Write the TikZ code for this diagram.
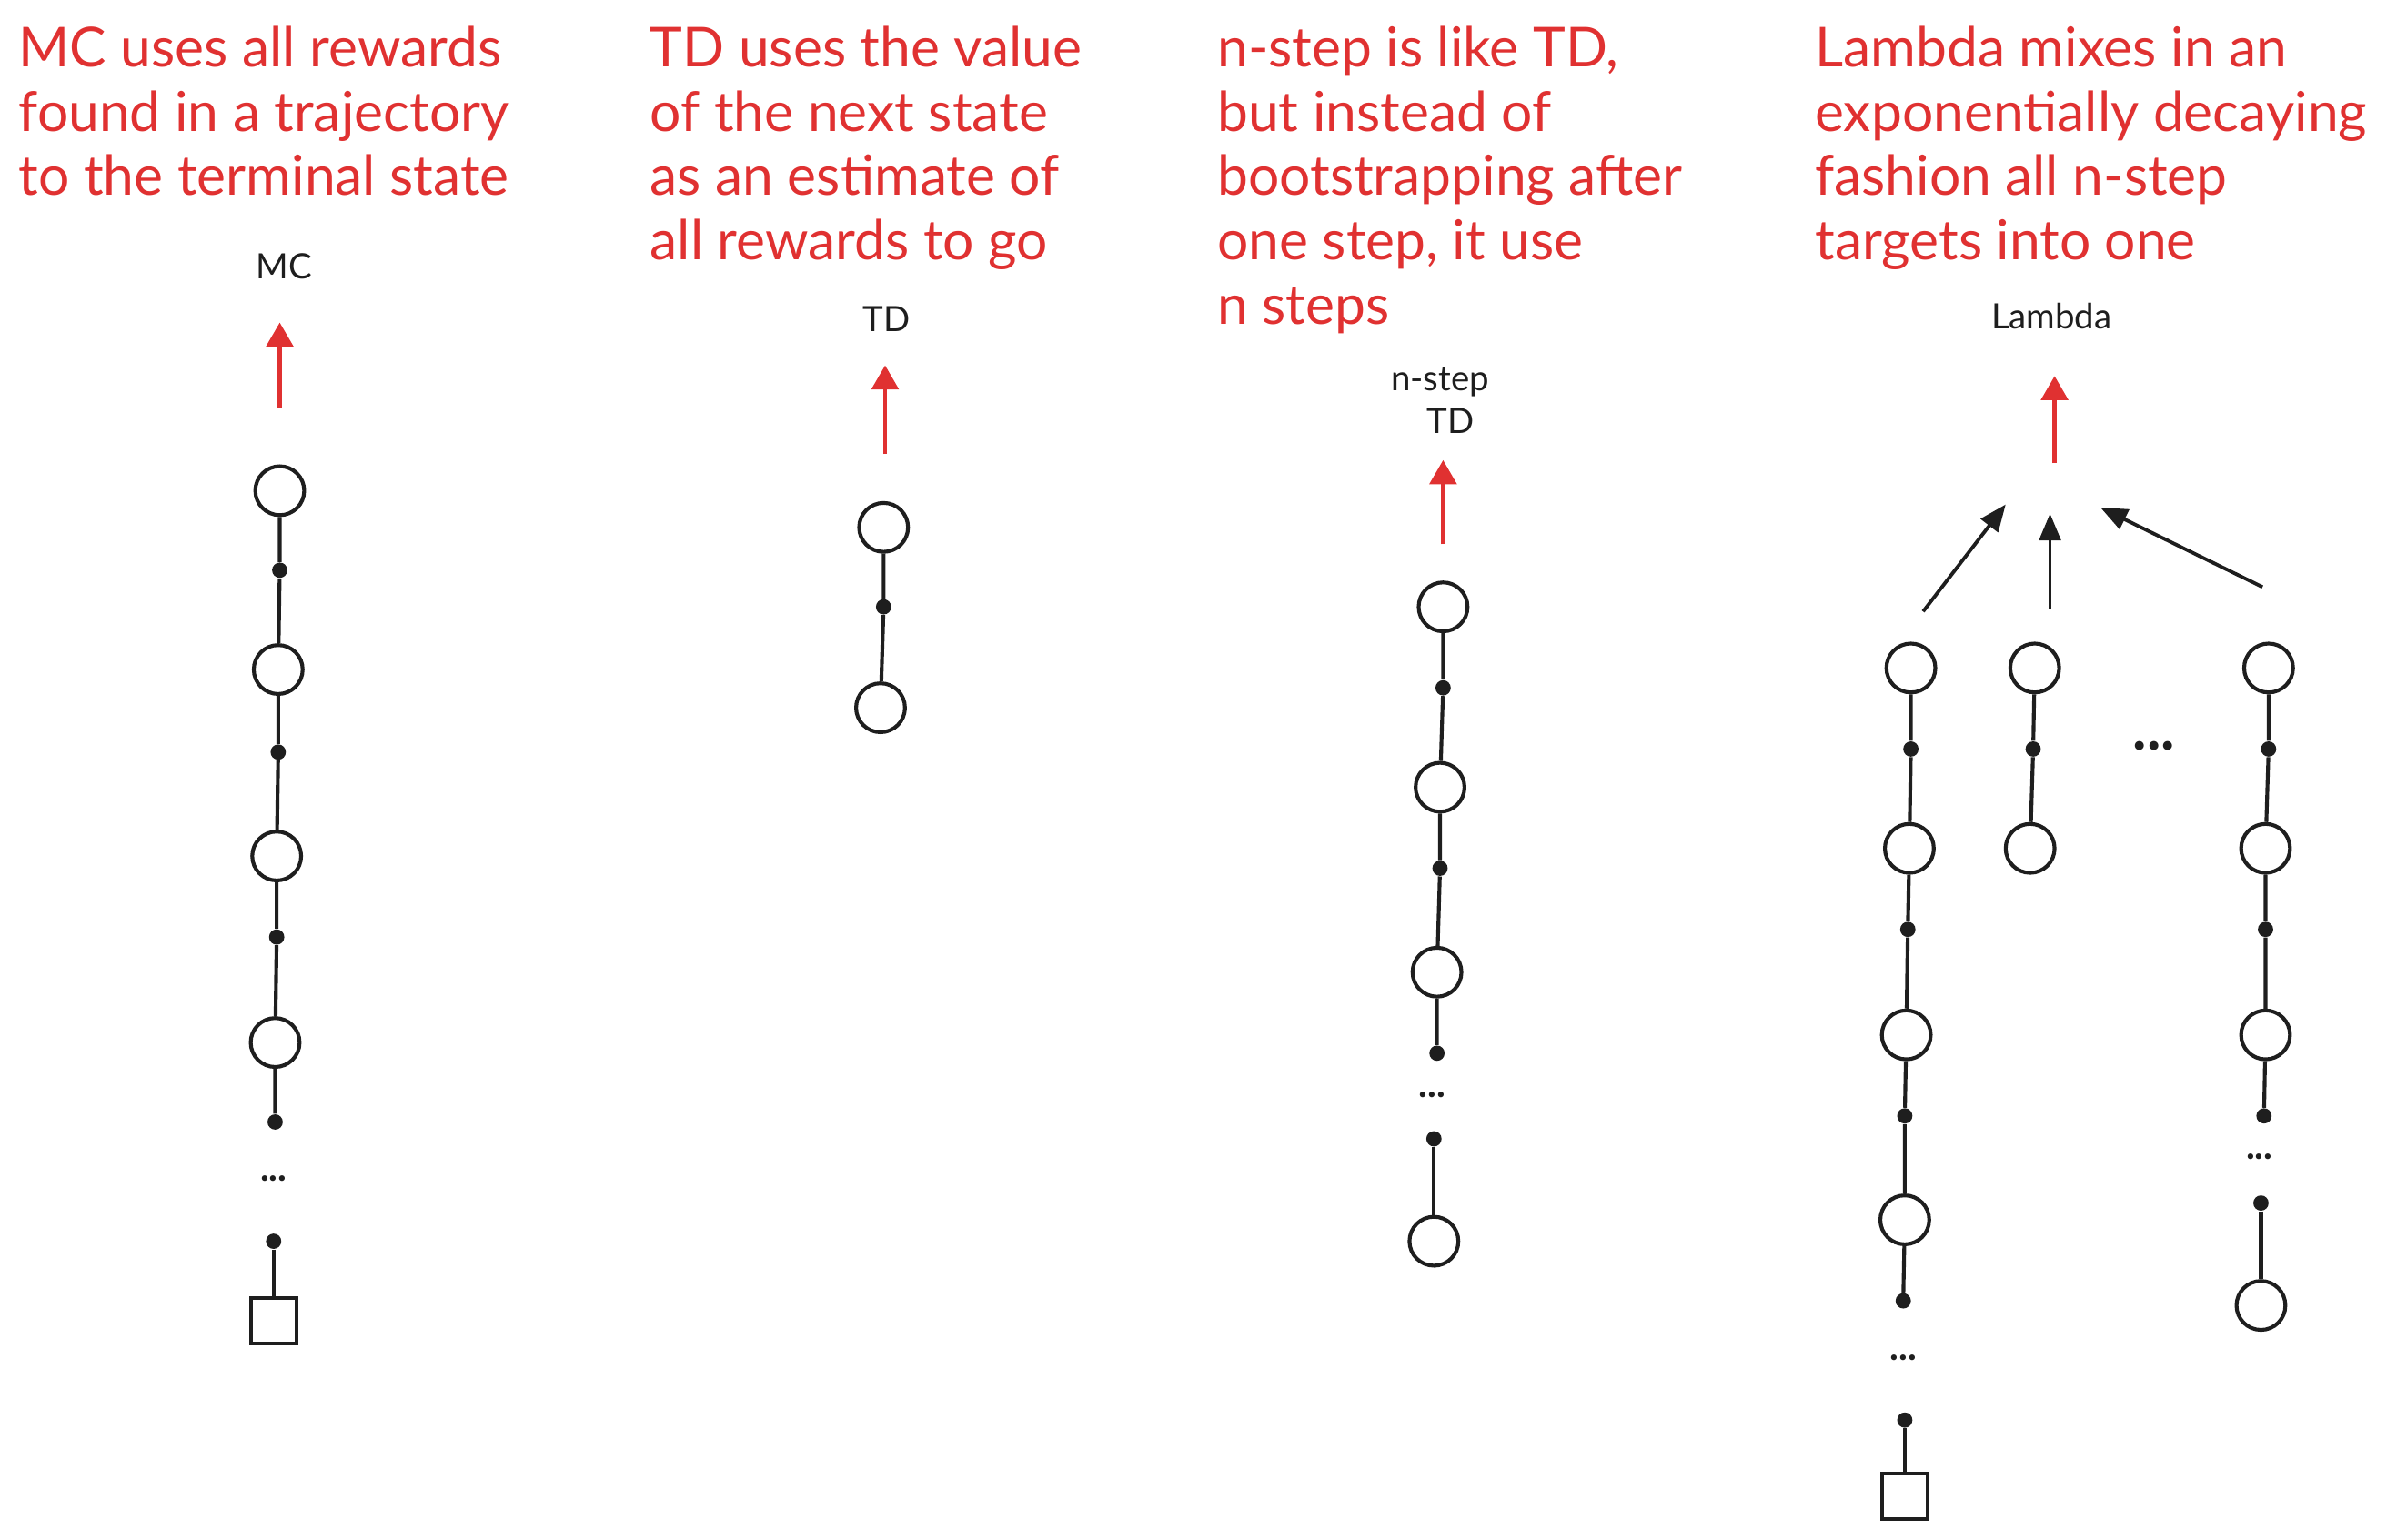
\documentclass[tikz,border=0pt]{standalone}
\usepackage{fontspec}
\setmainfont{Lato}
\usetikzlibrary{arrows.meta}
\definecolor{exred}{HTML}{E03131}
\definecolor{exblk}{HTML}{1E1E1E}
\begin{document}
\begin{tikzpicture}[x=0.02cm,y=-0.02cm,
  note/.style={anchor=north west,inner sep=0pt,align=left,text=exred,font=\fontsize{20.5}{23.9}\selectfont},
  lbl/.style={inner sep=0pt,align=center,text=exblk,font=\fontsize{13}{16}\selectfont},
  st/.style={circle,draw=exblk,line width=1.4pt,minimum size=0.64cm,inner sep=0pt,fill=white},
  act/.style={circle,fill=exblk,draw=none,minimum size=0.2cm,inner sep=0pt},
  term/.style={rectangle,draw=exblk,line width=1.4pt,minimum size=0.6cm,inner sep=0pt,fill=white},
  ell/.style={inner sep=0pt,text=exblk,font=\fontsize{14}{16}\selectfont\bfseries},
  edge/.style={draw=exblk,line width=1.4pt},
  redarr/.style={draw=exred,line width=1.5pt,-{Triangle[width=10pt,length=9pt]}},
  blkarr/.style={draw=exblk,line width=1.3pt,-{Triangle[width=8pt,length=10pt]}}
]
\useasboundingbox (0,0) rectangle (1568,1007);

% ---------- notes ----------
\node[note] (n1) at (12,17) {MC uses all rewards\\found in a trajectory\\to the terminal state};
\node[note] (n2) at (425,17) {TD uses the value\\of the next state\\as an estimate of\\all rewards to go};
\node[note] (n3) at (796,17) {n-step is like TD,\\but instead of\\bootstrapping after\\one step, it use\\n steps};
\node[note] (n4) at (1187,17) {Lambda mixes in an\\exponentially decaying\\fashion all n-step\\targets into one};

% ---------- MC ----------
\node[lbl] (lmc) at (186,174) {MC};
\coordinate (mca) at (183,267);
\coordinate (mcb) at (183,211);
\draw[redarr] (mca) -- (mcb);
\node[st] (m1) at (183,321) {};
\node[act] (ma1) at (183,373) {};
\node[st] (m2) at (182,438) {};
\node[act] (ma2) at (182,492) {};
\node[st] (m3) at (181,560) {};
\node[act] (ma3) at (181,613) {};
\node[st] (m4) at (180,682) {};
\node[act] (ma4) at (180,734) {};
\node[ell] (me) at (179,771) {...};
\node[act] (ma5) at (179,812) {};
\node[term] (mt) at (179,864) {};
\draw[edge] (m1) -- (ma1) -- (m2) -- (ma2) -- (m3) -- (ma3) -- (m4) -- (ma4);
\draw[edge] (ma5) -- (mt);

% ---------- TD ----------
\node[lbl] (ltd) at (580,209) {TD};
\coordinate (tda) at (579,297);
\coordinate (tdb) at (579,239);
\draw[redarr] (tda) -- (tdb);
\node[st] (t1) at (578,345) {};
\node[act] (ta1) at (578,397) {};
\node[st] (t2) at (576,463) {};
\draw[edge] (t1) -- (ta1) -- (t2);

% ---------- n-step ----------
\node[lbl] (lns) at (942,262) {n-step\\\hspace*{8pt}TD};
\coordinate (nsa) at (944,356);
\coordinate (nsb) at (944,301);
\draw[redarr] (nsa) -- (nsb);
\node[st] (s1) at (944,397) {};
\node[act] (sa1) at (944,450) {};
\node[st] (s2) at (942,515) {};
\node[act] (sa2) at (942,568) {};
\node[st] (s3) at (940,636) {};
\node[act] (sa3) at (940,689) {};
\node[ell] (se) at (937,716) {...};
\node[act] (sa4) at (938,745) {};
\node[st] (s4) at (938,812) {};
\draw[edge] (s1) -- (sa1) -- (s2) -- (sa2) -- (s3) -- (sa3);
\draw[edge] (sa4) -- (s4);

% ---------- Lambda ----------
\node[lbl] (llam) at (1342,207) {Lambda};
\coordinate (lma) at (1344,303);
\coordinate (lmb) at (1344,246);
\draw[redarr] (lma) -- (lmb);
\coordinate (ga) at (1258,400);
\coordinate (gb) at (1312,330);
\coordinate (ha) at (1341,398);
\coordinate (hb) at (1341,336);
\coordinate (ka) at (1480,384);
\coordinate (kb) at (1374,332);
\draw[blkarr] (ga) -- (gb);
\draw[blkarr] (ha) -- (hb);
\draw[blkarr] (ka) -- (kb);

% column A
\node[st] (a1) at (1250,437) {};
\node[act] (aa1) at (1250,490) {};
\node[st] (a2) at (1249,555) {};
\node[act] (aa2) at (1248,608) {};
\node[st] (a3) at (1247,677) {};
\node[act] (aa3) at (1246,730) {};
\node[st] (a4) at (1246,798) {};
\node[act] (aa4) at (1245,851) {};
\node[ell] (ae) at (1245,888) {...};
\node[act] (aa5) at (1246,929) {};
\node[term] (at) at (1246,979) {};
\draw[edge] (a1) -- (aa1) -- (a2) -- (aa2) -- (a3) -- (aa3) -- (a4) -- (aa4);
\draw[edge] (aa5) -- (at);

% column B
\node[st] (b1) at (1331,437) {};
\node[act] (ba1) at (1330,490) {};
\node[st] (b2) at (1328,555) {};
\draw[edge] (b1) -- (ba1) -- (b2);

% middle ellipsis
\node[inner sep=0pt,text=exblk,font=\fontsize{22}{24}\selectfont\bfseries] (le) at (1409,488) {...};

% column C
\node[st] (c1) at (1484,437) {};
\node[act] (ca1) at (1484,490) {};
\node[st] (c2) at (1482,555) {};
\node[act] (ca2) at (1482,608) {};
\node[st] (c3) at (1482,677) {};
\node[act] (ca3) at (1481,730) {};
\node[ell] (ce) at (1478,757) {...};
\node[act] (ca4) at (1479,787) {};
\node[st] (c4) at (1479,854) {};
\draw[edge] (c1) -- (ca1) -- (c2) -- (ca2) -- (c3) -- (ca3);
\draw[edge] (ca4) -- (c4);
\end{tikzpicture}
\end{document}
